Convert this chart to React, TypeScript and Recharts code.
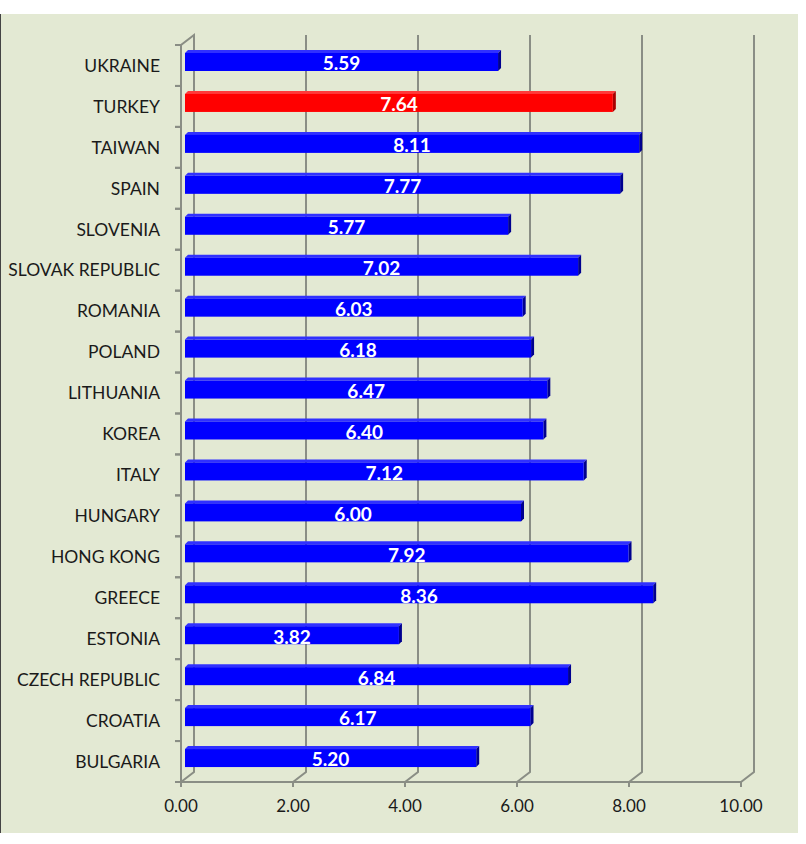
import { BarChart, Bar, XAxis, YAxis, Cell, LabelList, CartesianGrid } from 'recharts';

const countries = [
  'UKRAINE', 'TURKEY', 'TAIWAN', 'SPAIN', 'SLOVENIA', 'SLOVAK REPUBLIC', 'ROMANIA', 'POLAND', 'LITHUANIA',
  'KOREA', 'ITALY', 'HUNGARY', 'HONG KONG', 'GREECE', 'ESTONIA', 'CZECH REPUBLIC', 'CROATIA', 'BULGARIA',
];
const scores = [5.59, 7.64, 8.11, 7.77, 5.77, 7.02, 6.03, 6.18, 6.47, 6.4, 7.12, 6.0, 7.92, 8.36, 3.82, 6.84, 6.17, 5.2];
const highlighted = 'TURKEY';
const xTicks = [0, 2, 4, 6, 8, 10];

const data = countries.map((name, i) => ({ name, score: scores[i] }));

const FONT = 'Lato, sans-serif';
const GRID = '#8a8e85';
const BLUE = '#0000ff';
const RED = '#ff0000';
// depth of the back wall, and where the bars sit inside it
const DX = 13;
const DY = -10;
const BX = 4;
const BY = -3;

const Bar3D = (props: any) => {
  const { x, y, width, height, fill } = props;
  const red = fill === RED;
  const top = red ? '#ff3a3a' : '#3030ff';
  const side = red ? '#a80000' : '#00008f';
  const x0 = x + BX;
  const y0 = y + BY;
  const d = 3;
  return (
    <g>
      <path d={`M${x0},${y0} L${x0 + d},${y0 - d} L${x0 + width + d},${y0 - d} L${x0 + width},${y0} Z`} fill={top} />
      <path d={`M${x0 + width},${y0} L${x0 + width + d},${y0 - d} L${x0 + width + d},${y0 + height - d} L${x0 + width},${y0 + height} Z`} fill={side} />
      <rect x={x0} y={y0} width={width} height={height} fill={fill} />
    </g>
  );
};

const ValueLabel = (props: any) => {
  const { x, y, width, height, value } = props;
  return (
    <text x={x + BX + width / 2} y={y + BY + height / 2 + 1.5} dy="0.36em" textAnchor="middle"
      fill="#fff" fontWeight={700} fontSize={19} fontFamily={FONT}>
      {Number(value).toFixed(2)}
    </text>
  );
};

const BackGrid = (props: any) => {
  const { x1, y1, y2, index } = props;
  const top = Math.min(y1, y2);
  const bottom = Math.max(y1, y2);
  const d = index === 0
    ? `M${x1},${bottom} L${x1},${top} L${x1 + DX},${top + DY} L${x1 + DX},${bottom + DY} L${x1},${bottom}`
    : `M${x1},${bottom} L${x1 + DX},${bottom + DY} L${x1 + DX},${top + DY}`;
  return <path d={d} stroke={GRID} strokeWidth={2} fill="none" />;
};

const CountryTick = (props: any) => {
  const { x, y, payload } = props;
  const half = payload.offset || 20.5;
  const axisX = x + 21;
  return (
    <g>
      <line x1={axisX - 6} y1={y - half} x2={axisX} y2={y - half} stroke={GRID} strokeWidth={2} />
      <line x1={axisX - 6} y1={y + half} x2={axisX} y2={y + half} stroke={GRID} strokeWidth={2} />
      <text x={x} y={y} dy="0.36em" textAnchor="end" fill="#1a1a1a" fontSize={17.5} fontFamily={FONT}>
        {payload.value}
      </text>
    </g>
  );
};

export default function App() {
  return (
    <div style={{ position: 'absolute', left: 0, top: 0, width: 806, height: 844, background: '#fff' }}>
      <div style={{ position: 'absolute', left: 0, top: 14, width: 797, height: 819, background: '#e3e9d3', borderLeft: '1px solid #444' }} />
      <div style={{ position: 'absolute', left: 0, top: 0 }}>
        <BarChart width={806} height={844} data={data} layout="vertical" barSize={18}
          margin={{ top: 45, right: 65, bottom: 32, left: 0 }}>
          <CartesianGrid horizontal={false} vertical={(p: any) => <BackGrid key={p.key ?? p.index} {...p} />} />
          <XAxis type="number" domain={[0, 10]} ticks={xTicks} interval={0} height={30}
            tickFormatter={(v: number) => v.toFixed(2)}
            axisLine={{ stroke: GRID, strokeWidth: 2 }} tickLine={{ stroke: GRID, strokeWidth: 2 }} tickSize={5}
            tickMargin={13}
            tick={{ fill: '#1a1a1a', fontSize: 17, fontFamily: FONT }} />
          <YAxis type="category" dataKey="name" width={181} axisLine={false} tickLine={false}
            tickSize={0} tickMargin={21} interval={0} tick={<CountryTick />} />
          <Bar dataKey="score" isAnimationActive={false} shape={<Bar3D />}>
            {data.map((d) => (
              <Cell key={d.name} fill={d.name === highlighted ? RED : BLUE} />
            ))}
            <LabelList dataKey="score" content={<ValueLabel />} />
          </Bar>
        </BarChart>
      </div>
    </div>
  );
}
